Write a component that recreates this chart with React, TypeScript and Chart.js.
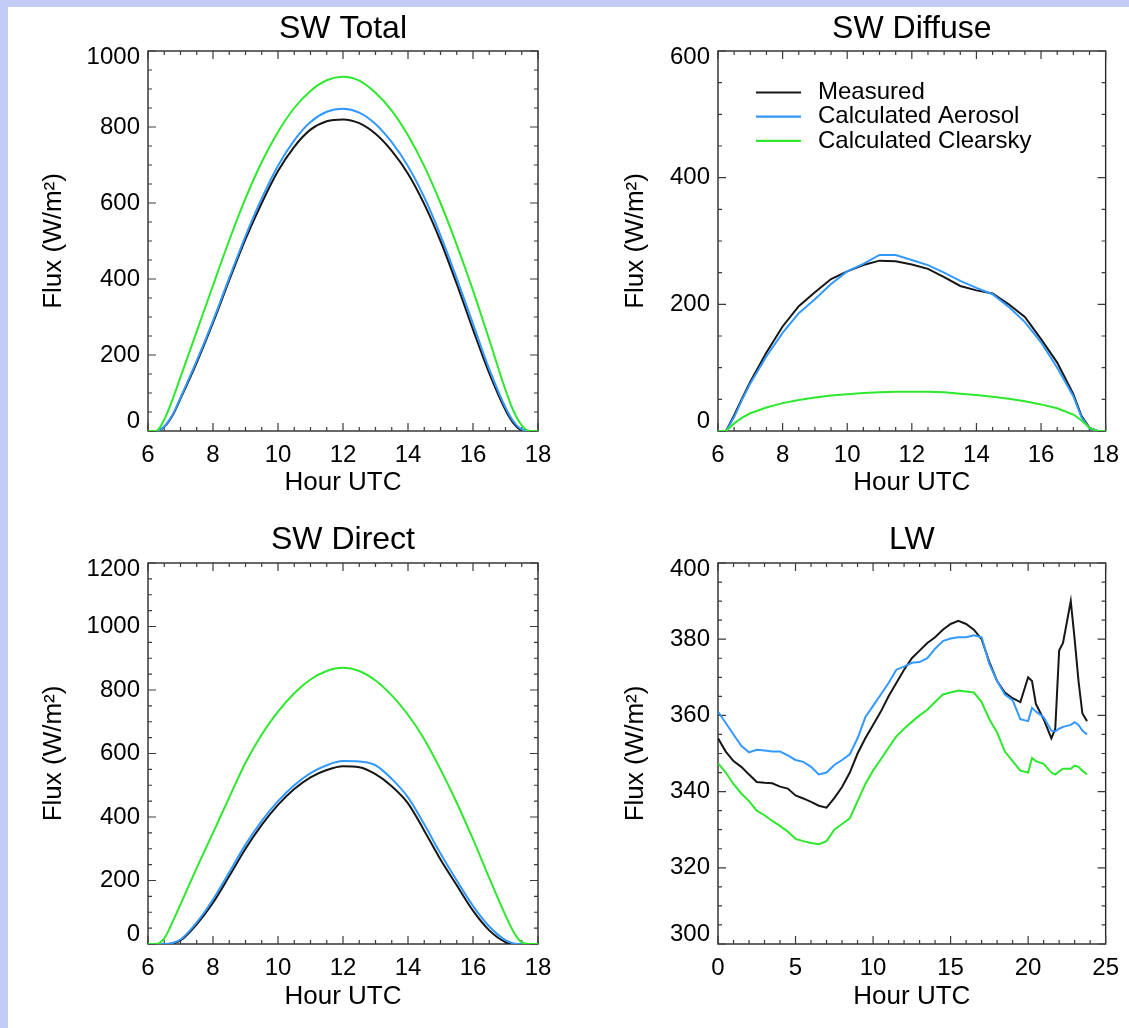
import React, { useEffect, useRef } from 'react';
import { Chart, registerables } from 'chart.js';

Chart.register(...registerables);

const FONT = "'Liberation Sans', Arial, Helvetica, sans-serif";
Chart.defaults.font.family = FONT;
Chart.defaults.color = '#000';

const COLOR_MEASURED = '#161616';
const COLOR_AEROSOL = '#3399ff';
const COLOR_CLEAR = '#2ee82e';

const seriesLabels = ['Measured', 'Calculated Aerosol', 'Calculated Clearsky'];

// ---- Shortwave (hours UTC) ----
const swHours = [6, 6.25, 6.5, 6.75, 7, 7.5, 8, 8.5, 9, 9.5, 10, 10.5, 11, 11.5, 12, 12.5, 13, 13.5, 14, 14.5, 15, 15.5, 16, 16.5, 17, 17.25, 17.5, 17.75, 18];

const swTotalMeasured = [0, 0, 11, 40, 85, 180, 285, 397, 505, 600, 684, 748, 793, 815, 820, 810, 782, 737, 677, 597, 500, 387, 267, 152, 55, 20, 2, 0, 0];
const swTotalAerosol = [0, 0, 12, 42, 88, 185, 290, 403, 513, 612, 698, 765, 813, 840, 848, 838, 808, 760, 697, 615, 515, 402, 282, 163, 62, 25, 4, 0, 0];
const swTotalClear = [0, 0, 30, 82, 142, 262, 383, 502, 612, 708, 787, 850, 895, 923, 932, 922, 890, 843, 778, 697, 600, 490, 370, 240, 108, 52, 15, 0, 0];

const swDiffuseMeasured = [0, 0, 25, 52, 78, 124, 165, 197, 219, 240, 252, 262, 269, 268, 263, 256, 243, 229, 222, 217, 200, 180, 145, 108, 58, 24, 5, 0, 0];
const swDiffuseAerosol = [0, 0, 22, 50, 75, 118, 155, 186, 208, 232, 252, 264, 278, 278, 270, 262, 250, 237, 226, 216, 196, 172, 140, 100, 55, 22, 4, 0, 0];
const swDiffuseClear = [0, 0, 12, 21, 28, 37, 44, 49, 53, 56, 58, 60, 61, 62, 62, 62, 61, 59, 57, 54, 51, 47, 42, 36, 26, 17, 5, 0, 0];

const swDirectMeasured = [0, 0, 0, 2, 11, 62, 130, 214, 300, 375, 438, 488, 525, 548, 560, 557, 535, 497, 443, 357, 266, 185, 105, 43, 6, 0, 0, 0, 0];
const swDirectAerosol = [0, 0, 0, 3, 14, 68, 140, 226, 313, 388, 450, 500, 538, 563, 576, 575, 563, 520, 462, 377, 285, 200, 120, 55, 12, 2, 0, 0, 0];
const swDirectClear = [0, 0, 18, 68, 125, 240, 350, 462, 571, 660, 732, 790, 833, 860, 870, 860, 830, 783, 722, 645, 550, 445, 330, 208, 90, 38, 5, 0, 0];

// ---- Longwave (hours UTC) ----
const lwHours = [0, 0.5, 1, 1.5, 2, 2.5, 3, 3.5, 4, 4.5, 5, 5.5, 6, 6.5, 7, 7.5, 8, 8.5, 9, 9.5, 10, 10.5, 11, 11.5, 12, 12.5, 13, 13.5, 14, 14.5, 15, 15.5, 16, 16.5, 17, 17.5, 18, 18.5, 19, 19.5, 20, 20.25, 20.5, 21, 21.5, 21.75, 22, 22.25, 22.75, 23, 23.25, 23.5, 23.8];

const lwMeasured = [354, 350.5, 348, 346.5, 344.5, 342.5, 342.3, 342.2, 341.3, 340.8, 339, 338.2, 337.3, 336.3, 335.8, 338.3, 341.2, 345, 350, 354, 357.5, 361, 365, 368.5, 372, 375, 377, 379, 380.5, 382.5, 384, 384.8, 384, 382.5, 380, 374, 369, 366, 364.5, 363.5, 370, 369, 363, 359, 354, 356.5, 377, 379, 390, 380, 369, 360.5, 358.5];
const lwAerosol = [361, 358, 355, 352, 350.3, 351, 350.8, 350.5, 350.5, 349.5, 348.3, 347.8, 346.5, 344.5, 345, 347, 348.3, 349.8, 354, 359.5, 362.5, 365.5, 368.5, 372, 372.8, 373.8, 374, 375, 377.5, 379.5, 380.2, 380.5, 380.5, 381, 380.5, 373.5, 369, 365.5, 364, 359, 358.5, 362, 361, 359.5, 356, 355.8, 356.5, 357, 357.5, 358.2, 357.5, 356, 355];
const lwClear = [347.5, 345, 342, 339.5, 337.5, 335, 333.8, 332.3, 331, 329.5, 327.6, 327, 326.5, 326.2, 327, 330, 331.5, 333, 337.5, 342, 345.5, 348.5, 351.5, 354.5, 356.5, 358.3, 360, 361.5, 363.5, 365.5, 366, 366.5, 366.3, 366, 363.5, 359, 355.5, 350.5, 348, 345.5, 345, 348.8, 348, 347.3, 345, 344.5, 345.3, 346, 346, 346.8, 346.5, 345.5, 344.5];

// ---- Axis ranges ----
const swXRange = [6, 18];
const lwXRange = [0, 25];
const totalYRange = [0, 1000];
const diffuseYRange = [0, 600];
const directYRange = [0, 1200];
const lwYRange = [300, 400];

const framePlugin = {
  id: 'idlFrame',
  beforeDatasetsDraw(chart: any, _args: any, opts: any) {
    const { ctx, chartArea: a, scales } = chart;
    const xs = scales.x;
    const ys = scales.y;
    ctx.save();
    ctx.strokeStyle = '#2a2a2a';
    ctx.lineWidth = 1.4;
    ctx.strokeRect(a.left, a.top, a.right - a.left, a.bottom - a.top);
    const major = 8;
    const minor = 4;
    ctx.lineWidth = 1.2;
    ctx.strokeStyle = '#3a3a3a';
    ctx.beginPath();
    const xn = Math.round((xs.max - xs.min) / opts.xMinor);
    for (let i = 0; i <= xn; i++) {
      const v = xs.min + i * opts.xMinor;
      const px = xs.getPixelForValue(v);
      const isMajor = Math.abs(v / opts.xMajor - Math.round(v / opts.xMajor)) < 1e-6;
      const len = isMajor ? major : minor;
      ctx.moveTo(px, a.bottom);
      ctx.lineTo(px, a.bottom - len);
      ctx.moveTo(px, a.top);
      ctx.lineTo(px, a.top + len);
    }
    const yn = Math.round((ys.max - ys.min) / opts.yMinor);
    for (let i = 0; i <= yn; i++) {
      const v = ys.min + i * opts.yMinor;
      const py = ys.getPixelForValue(v);
      const isMajor = Math.abs(v / opts.yMajor - Math.round(v / opts.yMajor)) < 1e-6;
      const len = isMajor ? major : minor;
      ctx.moveTo(a.left, py);
      ctx.lineTo(a.left + len, py);
      ctx.moveTo(a.right, py);
      ctx.lineTo(a.right - len, py);
    }
    ctx.stroke();
    ctx.restore();
  },
  afterDraw(chart: any, _args: any, opts: any) {
    if (!opts.legend) return;
    const { ctx } = chart;
    const L = opts.legend;
    ctx.save();
    ctx.font = `24px ${FONT}`;
    ctx.textBaseline = 'middle';
    ctx.textAlign = 'left';
    chart.data.datasets.forEach((ds: any, i: number) => {
      const y = L.y + i * L.dy;
      ctx.strokeStyle = ds.borderColor;
      ctx.lineWidth = 2.2;
      ctx.beginPath();
      ctx.moveTo(L.x0, y);
      ctx.lineTo(L.x1, y);
      ctx.stroke();
      ctx.fillStyle = '#000';
      ctx.fillText(ds.label, L.tx, y);
    });
    ctx.restore();
  },
};

type PanelSpec = {
  left: number; top: number; w: number; h: number;
  title: string; titlePadTop: number; titlePadBottom: number;
  yWidth: number; xHeight: number; padRight: number;
  yTitlePad: number; xTitlePad: number;
  hours: number[]; series: number[][]; smooth: boolean;
  xRange: number[]; xStep: number; xMinor: number;
  yRange: number[]; yStep: number; yMinor: number;
  legend?: any;
};

function buildConfig(p: PanelSpec): any {
  const colors = [COLOR_MEASURED, COLOR_AEROSOL, COLOR_CLEAR];
  const yMin = p.yRange[0];
  const yMax = p.yRange[1];
  return {
    type: 'line',
    data: {
      datasets: p.series.map((vals, k) => ({
        label: seriesLabels[k],
        data: p.hours.map((hr, i) => ({ x: hr, y: vals[i] })),
        borderColor: colors[k],
        backgroundColor: colors[k],
        borderWidth: 2,
        pointRadius: 0,
        fill: false,
        tension: 0,
        cubicInterpolationMode: p.smooth ? 'monotone' : 'default',
        order: 3 - k,
      })),
    },
    options: {
      animation: false,
      responsive: false,
      maintainAspectRatio: false,
      events: [],
      layout: { padding: { left: 0, right: p.padRight, top: 0, bottom: 0 } },
      plugins: {
        legend: { display: false },
        tooltip: { enabled: false },
        title: {
          display: true,
          text: p.title,
          fullSize: false,
          color: '#000',
          font: { family: FONT, size: 32, weight: 'normal', lineHeight: 1.2 },
          padding: { top: p.titlePadTop, bottom: p.titlePadBottom },
        },
        idlFrame: {
          xMinor: p.xMinor, xMajor: p.xStep,
          yMinor: p.yMinor, yMajor: p.yStep,
          legend: p.legend,
        },
      },
      scales: {
        x: {
          type: 'linear',
          min: p.xRange[0],
          max: p.xRange[1],
          grid: { display: false, drawTicks: false },
          border: { display: false },
          ticks: {
            stepSize: p.xStep,
            padding: 10,
            autoSkip: false,
            maxRotation: 0,
            color: '#000',
            font: { family: FONT, size: 24, lineHeight: 1.2 },
          },
          title: {
            display: true,
            text: 'Hour UTC',
            color: '#000',
            font: { family: FONT, size: 26, lineHeight: 1.2 },
            padding: { top: 0, bottom: p.xTitlePad },
          },
          afterFit: (s: any) => { s.height = p.xHeight; },
        },
        y: {
          type: 'linear',
          min: yMin,
          max: yMax,
          grid: { display: false, drawTicks: false },
          border: { display: false },
          ticks: {
            stepSize: p.yStep,
            padding: 8,
            autoSkip: false,
            color: '#000',
            callback: (value: number) => {
              if (value === yMax) return ['', String(value)];
              if (value === yMin) return [String(value), ''];
              return String(value);
            },
            font: (c: any) => {
              const v = c.tick ? c.tick.value : null;
              let lh: any = 1.2;
              if (v === yMax) lh = '12px';
              else if (v === yMin) lh = '20px';
              return { family: FONT, size: 24, lineHeight: lh };
            },
          },
          title: {
            display: true,
            text: 'Flux (W/m²)',
            color: '#000',
            font: { family: FONT, size: 26, lineHeight: 1.2 },
            padding: { top: p.yTitlePad, bottom: 0 },
          },
          afterFit: (s: any) => { s.width = p.yWidth; },
        },
      },
    },
    plugins: [framePlugin],
  };
}

const panels: PanelSpec[] = [
  {
    left: 0, top: 0, w: 565, h: 510,
    title: 'SW Total', titlePadTop: 10, titlePadBottom: 2.6,
    yWidth: 148, xHeight: 79, padRight: 27, yTitlePad: 38, xTitlePad: 11.4,
    hours: swHours, series: [swTotalMeasured, swTotalAerosol, swTotalClear], smooth: true,
    xRange: swXRange, xStep: 2, xMinor: 0.5,
    yRange: totalYRange, yStep: 200, yMinor: 50,
  },
  {
    left: 565, top: 0, w: 564, h: 510,
    title: 'SW Diffuse', titlePadTop: 10, titlePadBottom: 2.6,
    yWidth: 153, xHeight: 79, padRight: 21, yTitlePad: 55.4, xTitlePad: 11.4,
    hours: swHours, series: [swDiffuseMeasured, swDiffuseAerosol, swDiffuseClear], smooth: false,
    xRange: swXRange, xStep: 2, xMinor: 0.5,
    yRange: diffuseYRange, yStep: 200, yMinor: 50,
    legend: { x0: 191, x1: 236, tx: 253, y: 92.5, dy: 24.2 },
  },
  {
    left: 0, top: 510, w: 565, h: 518,
    title: 'SW Direct', titlePadTop: 11.1, titlePadBottom: 3.5,
    yWidth: 148, xHeight: 84, padRight: 27, yTitlePad: 38, xTitlePad: 15.7,
    hours: swHours, series: [swDirectMeasured, swDirectAerosol, swDirectClear], smooth: true,
    xRange: swXRange, xStep: 2, xMinor: 0.5,
    yRange: directYRange, yStep: 200, yMinor: 50,
  },
  {
    left: 565, top: 510, w: 564, h: 518,
    title: 'LW', titlePadTop: 11.1, titlePadBottom: 3.5,
    yWidth: 153, xHeight: 84, padRight: 21, yTitlePad: 55.4, xTitlePad: 15.7,
    hours: lwHours, series: [lwMeasured, lwAerosol, lwClear], smooth: false,
    xRange: lwXRange, xStep: 5, xMinor: 1,
    yRange: lwYRange, yStep: 20, yMinor: 5,
  },
];

function Panel({ spec }: { spec: PanelSpec }) {
  const ref = useRef<HTMLCanvasElement | null>(null);
  useEffect(() => {
    if (!ref.current) return;
    const chart = new Chart(ref.current, buildConfig(spec));
    return () => chart.destroy();
  }, [spec]);
  return (
    <canvas
      ref={ref}
      width={spec.w}
      height={spec.h}
      style={{ position: 'absolute', left: spec.left, top: spec.top, width: spec.w, height: spec.h, display: 'block' }}
    />
  );
}

export default function App() {
  return (
    <div style={{ position: 'fixed', left: 0, top: 0, width: 1129, height: 1028, background: '#c2cdf6', overflow: 'hidden' }}>
      <div style={{ position: 'absolute', left: 8, top: 7, right: 0, bottom: 0, background: '#ffffff' }} />
      {panels.map((p, i) => (
        <Panel key={i} spec={p} />
      ))}
    </div>
  );
}
